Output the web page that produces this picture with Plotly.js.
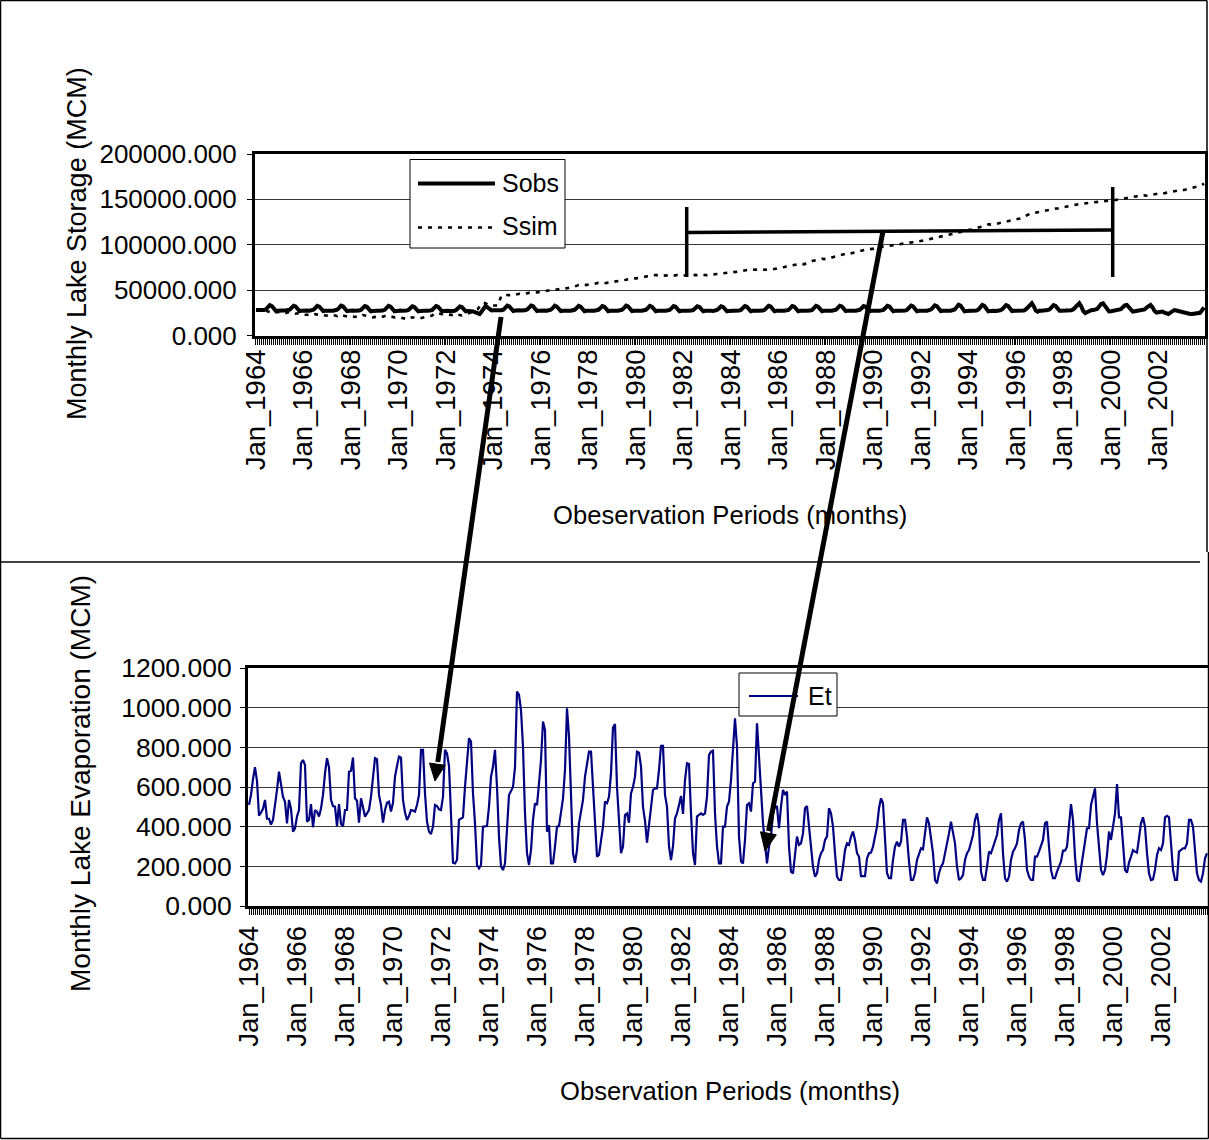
<!DOCTYPE html>
<html><head><meta charset="utf-8">
<script src="https://cdn.plot.ly/plotly-3.0.1.min.js"></script>
<style>html,body{margin:0;padding:0;background:#fff}#chart{width:1209px;height:1140px}</style>
</head><body><div id="chart"></div>
<script>
const years = [1964,1965,1966,1967,1968,1969,1970,1971,1972,1973,1974,1975,1976,1977,1978,1979,1980,1981,1982,1983,
               1984,1985,1986,1987,1988,1989,1990,1991,1992,1993,1994,1995,1996,1997,1998,1999,2000,2001,2002,2003];
const monthNames = ['Jan','Feb','Mar','Apr','May','Jun','Jul','Aug','Sep','Oct','Nov','Dec'];
const tickLabels = ['Jan_1964','Jan_1966','Jan_1968','Jan_1970','Jan_1972','Jan_1974','Jan_1976','Jan_1978','Jan_1980','Jan_1982',
                    'Jan_1984','Jan_1986','Jan_1988','Jan_1990','Jan_1992','Jan_1994','Jan_1996','Jan_1998','Jan_2000','Jan_2002'];

// Observed monthly lake storage (MCM), one row per year
const sobs = [
28000,27800,27700,27700,28000,28800,31000,33500,32500,29500,27200,27400,
27800,27700,27600,27500,27800,28500,30500,32800,32000,29200,27000,27300,
27700,27600,27500,27400,27700,28400,30300,32600,31800,29000,26900,27300,
27700,27600,27400,27300,27600,28400,30500,32900,32000,29000,26800,27200,
27600,27500,27300,27200,27500,28200,30100,32400,31600,28800,26700,27100,
27600,27400,27300,27200,27500,28300,30300,32600,31800,28900,26700,27100,
27500,27400,27200,27100,27400,28100,30000,32300,31500,28700,26600,27000,
27500,27300,27200,27100,27400,28200,30200,32500,31700,28900,26700,27100,
27500,27300,27100,26900,27100,27900,29800,32000,31300,28600,26500,26900,
27100,26800,26300,25300,24000,23600,26500,30000,32500,31000,28500,27600,
27900,27800,27600,27500,27800,28500,30600,32900,32100,29200,27000,27500,
27900,27700,27500,27400,27700,28500,30600,33000,32200,29200,27000,27400,
27800,27600,27500,27400,27700,28400,30400,32800,31900,29000,26900,27300,
27700,27500,27400,27300,27600,28300,30300,32700,31800,28900,26800,27300,
27700,27500,27400,27300,27600,28300,30200,32500,31700,28900,26800,27300,
27700,27500,27400,27300,27600,28400,30500,32900,32000,29100,26900,27300,
27700,27500,27400,27300,27600,28300,30200,32600,31800,29000,26800,27300,
27600,27400,27300,27200,27500,28200,30100,32400,31600,28900,26700,27200,
27600,27400,27300,27200,27500,28200,30000,32300,31500,28800,26700,27200,
27500,27300,27200,27100,27400,28100,29900,32200,31400,28700,26600,27100,
27500,27300,27200,27100,27400,28200,30100,32500,31700,28900,26700,27200,
27600,27400,27300,27200,27500,28300,30300,32700,31900,29000,26800,27300,
27600,27400,27300,27200,27500,28200,30100,32500,31700,28900,26700,27200,
27600,27400,27300,27200,27500,28200,30200,32600,31800,29000,26800,27300,
27700,27500,27400,27300,27600,28400,30400,32800,32000,29100,26900,27400,
27700,27500,27400,27300,27600,28300,30100,32400,31600,28900,26800,27300,
27600,27400,27300,27200,27500,28300,30300,32700,31900,29000,26700,27200,
27600,27400,27300,27200,27500,28400,30500,32900,32100,29100,26800,27300,
27700,27500,27400,27300,27700,28600,30800,33300,32400,29400,26900,27300,
27700,27500,27400,27300,27700,28700,31200,33900,33000,29700,26700,27100,
27500,27300,27200,27100,27600,28600,31000,33600,32700,29500,26600,27000,
27400,27200,27100,27200,27800,28800,31200,33400,32600,29600,26900,27200,
27100,26900,26800,27000,27600,28800,31600,34300,35500,32000,27500,26300,
27500,27300,27200,27500,28000,28800,31200,33400,32600,29600,27300,27400,
27600,27300,27000,27300,27900,28900,31600,34300,35500,32000,27000,24800,
25800,27300,27800,28000,28300,29300,32000,34800,35500,32500,28500,26500,
26800,27300,27500,27800,28100,28900,31200,33300,33700,31000,27500,26300,
26700,27200,27400,27500,27900,28700,30700,32800,33700,31000,27000,25300,
25800,26800,26300,25300,24300,23700,25300,27300,28000,27500,26800,26300,
25800,25300,24500,24000,23700,23700,23900,23800,24000,25000,27800,30800
];

// Simulated monthly lake storage (MCM)
const ssim = [
28000,27500,27000,26500,26800,27200,26500,26000,26500,26000,25500,26000,
25800,25500,25000,24500,25500,26000,25000,24500,24000,24500,23500,23000,
23000,22500,22800,23000,22000,22500,23500,23000,22500,22000,22500,22000,
22000,21500,21800,22500,22000,21500,23000,22500,22000,21500,21000,21500,
21500,21000,20500,21000,21500,21000,22500,22000,21500,21000,20500,20000,
20500,20000,19500,20000,20500,21000,22000,21500,21000,20500,20000,20500,
20000,19500,19000,18500,18000,17900,19500,20000,19500,19000,18800,19000,
19500,20000,20500,21000,21500,22000,24000,25000,24500,24000,23500,24000,
24000,23500,23000,22500,22000,21500,23000,22500,22000,22500,23000,24000,
25000,26000,27000,28000,29000,32000,35500,36000,35500,34000,33000,33000,
33000,32600,33000,38000,44000,44700,44500,44000,44500,45000,45500,45000,
45500,46000,45500,46000,46500,47000,47000,46800,47200,47700,47500,47800,
48000,48500,48200,48800,49500,50000,50500,50200,50800,51000,51500,51200,
51500,52000,52500,53000,53500,54000,55000,55700,55500,55200,55500,55800,
56000,56200,56500,57000,57500,58000,58300,58000,57500,57800,58200,58500,
58800,59200,59500,60000,60500,60500,61000,61500,62000,62500,62800,63000,
63000,63200,63500,64000,64500,65000,65500,66000,66500,66700,66500,66700,
66800,66500,66000,66200,66500,66800,66500,66000,66300,66600,66000,66200,
66000,66300,66500,66200,66000,66500,66800,66400,66000,66300,66600,66200,
66500,66800,67000,67300,67500,67800,68000,68300,68600,68300,68800,69000,
69200,69500,69800,70000,70500,71000,71500,72000,72200,72500,72300,72500,
72500,72300,72600,72800,72500,72400,72800,73000,72700,72900,73200,73500,
74000,74500,75000,75500,76000,76500,77000,77500,78000,78500,78800,79000,
79000,78500,79500,80000,81000,82000,82500,83000,83500,84000,84600,84200,
84500,84200,85000,86000,86500,87000,87500,88000,88500,89000,90100,89500,
90000,90500,91000,91500,92000,92500,93000,94000,94500,95000,95600,95200,
95500,96000,96500,97000,97500,98000,98500,99300,99000,99200,99500,99300,
99500,100000,100500,101000,101500,102000,102500,103000,102800,103000,103300,103500,
104000,104500,105000,105500,106000,106500,107000,107500,108000,108500,109000,109300,
109500,110000,110500,111000,111500,112000,112500,113000,114000,114500,115000,115900,
116000,116500,117000,117500,118500,119000,119500,120000,121000,121500,122500,122000,
122000,122500,123000,123500,124000,124500,125000,125500,126000,126500,126900,127000,
127500,128000,129000,130000,131000,132000,133000,134000,135000,135000,135500,135800,
136000,136500,137000,137500,138000,138500,139000,139500,139900,140000,140500,141000,
141500,142000,142500,143000,143500,144000,144600,144500,144800,145000,145500,146000,
146000,146200,146500,146800,147000,147200,147000,147500,147800,148000,148200,148500,
148500,148800,149000,149000,149500,150000,150500,151000,151500,152000,152500,153000,
153000,153400,153000,153500,154000,154500,154000,154500,155000,155500,156000,156400,
156400,156000,156500,157000,157500,158000,158500,159000,159500,160000,160000,160200,
160000,160500,161000,161500,162000,162500,163000,163500,164000,165000,166000,167400
];

// Monthly lake evaporation (MCM)
const et = [
510,560,640,700,630,455,470,490,535,440,440,410,
434,500,585,677,620,550,525,417,535,490,375,392,
451,484,720,736,711,425,434,514,397,484,476,451,
492,560,669,745,699,535,504,501,403,514,413,403,
484,484,677,682,748,543,531,420,543,501,451,467,
484,551,635,745,740,560,509,420,484,521,526,476,
521,652,706,753,748,535,471,434,454,484,481,476,
509,560,787,787,568,425,375,363,400,509,504,487,
484,551,787,770,706,467,218,215,232,434,442,447,
602,720,846,829,568,417,207,190,207,400,400,403,
501,652,703,787,600,350,200,181,215,380,560,580,
600,700,1081,1064,988,803,467,266,207,282,434,518,
509,619,736,930,888,375,408,215,215,299,400,403,
467,543,686,997,855,551,266,218,282,417,467,535,
652,720,778,778,585,383,249,257,333,400,526,518,
551,669,900,918,600,400,266,300,459,467,420,568,
600,652,778,773,703,500,430,320,420,501,585,593,
593,686,807,807,560,501,300,232,300,442,467,509,
555,464,635,720,716,467,266,207,451,459,467,459,
467,551,761,778,783,467,300,215,215,400,400,501,
526,635,803,946,803,350,224,215,333,509,518,476,
619,627,921,753,585,417,316,215,299,350,467,501,
501,392,501,585,560,577,299,173,165,249,350,308,
316,366,493,504,400,266,198,148,165,232,266,282,
333,350,493,467,400,266,148,131,131,198,282,316,
308,350,375,333,266,249,151,151,151,240,266,269,
299,350,400,493,543,518,350,165,140,140,232,299,
324,299,324,434,434,350,224,131,131,165,232,266,
291,286,383,447,417,350,266,131,114,165,198,215,
266,299,366,425,375,316,198,131,140,156,232,266,
282,316,358,434,467,400,173,131,131,198,274,266,
299,324,358,434,467,266,140,123,148,232,274,291,
316,383,417,425,333,182,148,131,131,249,249,274,
299,333,417,425,299,182,140,140,173,198,224,279,
279,299,417,514,434,249,134,123,190,257,308,392,
392,509,551,593,417,299,182,156,182,257,375,333,
400,467,615,447,447,333,182,168,219,249,282,274,
269,341,417,447,400,266,165,131,134,182,257,291,
282,316,447,454,447,316,182,131,131,274,282,291,
291,316,434,434,400,282,165,131,123,165,240,266
];

const categories = [];
years.forEach(y => monthNames.forEach(m => categories.push(m + '_' + y)));
const labelSet = new Set(tickLabels);
const tickText = categories.map(c => labelSet.has(c) ? c : '');

const W = 1209, H = 1140;
const px = x => x / W;
const py = y => 1 - y / H;
const FONT = 'Liberation Sans, Arial, sans-serif';

const traces = [
  {x: categories, y: sobs, name: 'Sobs', type: 'scatter', mode: 'lines', xaxis: 'x', yaxis: 'y',
   line: {color: '#000000', width: 4}, showlegend: false},
  {x: categories, y: ssim, name: 'Ssim', type: 'scatter', mode: 'lines', xaxis: 'x', yaxis: 'y',
   line: {color: '#000000', width: 2.6, dash: '4px,6px'}, showlegend: false},
  {x: categories, y: et, name: 'Et', type: 'scatter', mode: 'lines', xaxis: 'x2', yaxis: 'y2',
   line: {color: '#000080', width: 2.2}, showlegend: false}
];

function xAxis(domain, anchor, standoff) {
  return {domain: domain, anchor: anchor, type: 'category', range: [-0.5, categories.length - 0.5],
    tickmode: 'array', tickvals: categories, ticktext: tickText, tickangle: -90,
    ticks: 'outside', ticklen: 6, tickwidth: 1, tickcolor: '#000',
    showline: true, linewidth: 3, linecolor: '#000', mirror: true, showgrid: false, zeroline: false,
    tickfont: {family: FONT, size: 27.5, color: '#000'}, ticklabelstandoff: standoff, fixedrange: true};
}
function yAxis(domain, anchor, range, dtick, standoff, fsize) {
  return {domain: domain, anchor: anchor, range: range, dtick: dtick, tick0: 0, tickformat: '.3f',
    ticks: 'outside', ticklen: 5, tickwidth: 1, tickcolor: '#000',
    showline: true, linewidth: 3, linecolor: '#000', mirror: true,
    showgrid: true, gridcolor: '#3a3a3a', gridwidth: 1, zeroline: false,
    tickfont: {family: FONT, size: fsize, color: '#000'}, ticklabelstandoff: standoff, fixedrange: true};
}

function seg(x0, y0, x1, y1, w, color, dash) {
  return {type: 'line', xref: 'paper', yref: 'paper', x0: px(x0), y0: py(y0), x1: px(x1), y1: py(y1),
    line: {color: color || '#000', width: w, dash: dash || 'solid'}};
}
function tri(a, b, c) {
  return {type: 'path', xref: 'paper', yref: 'paper',
    path: 'M ' + px(a[0]) + ' ' + py(a[1]) + ' L ' + px(b[0]) + ' ' + py(b[1]) + ' L ' + px(c[0]) + ' ' + py(c[1]) + ' Z',
    fillcolor: '#000', line: {color: '#000', width: 1}};
}
function box(x0, y0, x1, y1, w) {
  return {type: 'rect', xref: 'paper', yref: 'paper', x0: px(x0), y0: py(y1), x1: px(x1), y1: py(y0),
    line: {color: '#000', width: w}, fillcolor: '#ffffff'};
}
function txt(text, x, y, size, angle, xanchor) {
  return {text: text, xref: 'paper', yref: 'paper', x: px(x), y: py(y), showarrow: false,
    textangle: angle || 0, xanchor: xanchor || 'center', yanchor: 'middle',
    font: {family: FONT, size: size, color: '#000'}};
}

const shapes = [
  // outer frames
  seg(0.5, 0.5, 1207, 0.5, 1.5), seg(0.5, 0.5, 0.5, 1138.5, 1.5), seg(1207, 0.5, 1207, 552, 1.5),
  seg(0.5, 562, 1200, 562, 1.5), seg(1208.5, 552, 1208.5, 1138.5, 1.5), seg(0.5, 1138.5, 1208.5, 1138.5, 1.5),
  // legends
  box(410, 159.5, 565, 248, 1), seg(418, 183.5, 495, 183.5, 4), seg(418, 227.5, 495, 227.5, 2.6, '#000', '4px,6px'),
  box(739, 673, 837, 716, 1), seg(749, 696, 798, 696, 2.2, '#000080'),
  // bracket
  seg(686.7, 207, 686.7, 277, 3.5), seg(686.7, 232.5, 1112.7, 230, 3.5), seg(1112.7, 187, 1112.7, 277, 3.5),
  // arrows
  seg(501, 317, 437.8, 762, 5), tri([435, 781], [445.3, 765.3], [429.5, 763.1]),
  seg(883, 231, 768.6, 831, 5), tri([765, 851], [776.3, 834.8], [760.5, 831.8])
];

const annotations = [
  txt('Sobs', 500, 183, 25, 0, 'left'),
  txt('Ssim', 500, 226, 25, 0, 'left'),
  txt('Et', 806, 696, 25, 0, 'left'),
  txt('Monthly Lake Storage (MCM)', 77, 244, 27, -90),
  txt('Obeservation Periods (months)', 730, 515, 25.6),
  txt('Monthly Lake Evaporation (MCM)', 80, 784, 28, -90),
  txt('Observation Periods (months)', 730, 1091, 25.6)
];

const layout = {
  width: W, height: H, margin: {l: 0, r: 0, t: 0, b: 0}, paper_bgcolor: '#fff', plot_bgcolor: '#fff',
  showlegend: false,
  xaxis: xAxis([px(255), px(1205)], 'y', -6),
  yaxis: yAxis([py(335.5), py(154)], 'x', [0, 200000], 50000, 5, 26),
  xaxis2: xAxis([px(248), px(1208)], 'y2', 0),
  yaxis2: yAxis([py(906), py(668)], 'x2', [0, 1200], 200, 3, 26.5),
  shapes: shapes, annotations: annotations
};

Plotly.newPlot('chart', traces, layout, {displayModeBar: false, staticPlot: true});
</script>
</body></html>
